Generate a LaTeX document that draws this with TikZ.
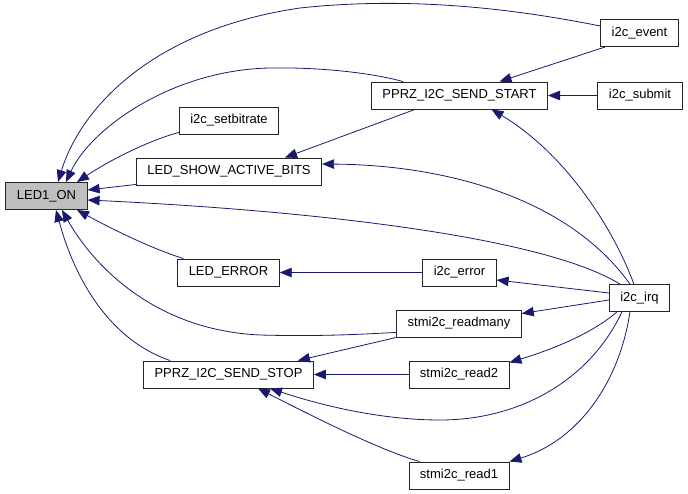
\documentclass[tikz,border=0pt]{standalone}
\usepackage{fontspec}
\setmainfont{Liberation Sans}
\usetikzlibrary{arrows.meta,positioning}
\definecolor{edgeblue}{RGB}{25,25,112}
\definecolor{rootgray}{RGB}{191,191,191}

\begin{document}
\begin{tikzpicture}[
      x=1pt,y=-1pt,
      fn/.style={draw=black!85, line width=0.9pt, fill=white, minimum height=27pt,
        inner xsep=11pt, inner ysep=0pt, font=\fontsize{13}{15}\selectfont},
      root/.style={fn, fill=rootgray},
      call/.style={draw=edgeblue, line width=0.8pt, {Triangle[length=12pt,width=9.5pt]}-}
    ]
      \useasboundingbox (0,0) rectangle (688,494);
      % functions
      \node[root] (led1) at (46.5,196) {LED1\_ON};
      \node[fn] (sbr) at (229,120.5) {i2c\_setbitrate};
      \node[fn] (show) at (229,171.5) {LED\_SHOW\_ACTIVE\_BITS};
      \node[fn] (start) at (459.5,95.5) {PPRZ\_I2C\_SEND\_START};
      \node[fn] (event) at (639.5,33) {i2c\_event};
      \node[fn] (submit) at (640,95.5) {i2c\_submit};
      \node[fn] (lederr) at (228.5,272.5) {LED\_ERROR};
      \node[fn] (ierr) at (459.5,272.5) {i2c\_error};
      \node[fn] (rm) at (459,323.5) {stmi2c\_readmany};
      \node[fn] (irq) at (639.5,298) {i2c\_irq};
      \node[fn] (stop) at (228.5,374.5) {PPRZ\_I2C\_SEND\_STOP};
      \node[fn] (r2) at (459,374.5) {stmi2c\_read2};
      \node[fn] (r1) at (459,475.5) {stmi2c\_read1};
      % calls into LED1_ON
      \draw[call] ([xshift=11.5pt]led1.north) .. controls (80,110) and (150,30) .. (300,8)
        .. controls (420,-5) and (530,12) .. ([yshift=7pt]event.west);
      \draw[call] ([xshift=19.5pt]led1.north) .. controls (90,130) and (170,70) .. (270,68)
        .. controls (330,67) and (380,75) .. ([xshift=32pt]start.north west);
      \draw[call] ([xshift=30.5pt]led1.north) .. controls (110,160) and (150,140) .. ([yshift=2pt]sbr.south west);
      \draw[call] ([yshift=6pt]led1.east) -- ([yshift=1pt]show.south west);
      \draw[call] ([yshift=-4pt]led1.east) .. controls (300,210) and (540,235) .. ([xshift=11pt]irq.north west);
      \draw[call] ([xshift=30.5pt]led1.south) .. controls (110,228) and (150,248) .. ([xshift=6pt]lederr.north west);
      \draw[call] ([xshift=15.5pt]led1.south) .. controls (90,260) and (150,330) .. (260,335)
        .. controls (330,337) and (380,333) .. ([yshift=5pt]rm.south west);
      \draw[call] ([xshift=9.5pt]led1.south) .. controls (75,280) and (110,340) .. ([xshift=27pt]stop.north west);
      % LED_SHOW_ACTIVE_BITS, PPRZ_I2C_SEND_START
      \draw[call] ([xshift=56pt]show.north) -- ([xshift=44pt]start.south west);
      \draw[call] ([yshift=7.5pt]show.east) .. controls (450,165) and (570,200) .. ([xshift=21pt]irq.north west);
      \draw[call] ([xshift=40pt]start.north) -- ([xshift=5pt]event.south west);
      \draw[call] (start) -- (submit);
      \draw[call] ([xshift=32pt]start.south) .. controls (560,150) and (610,220) .. ([xshift=25pt]irq.north west);
      % LED_ERROR, i2c_error, readmany
      \draw[call] (lederr) -- (ierr);
      \draw[call] ([yshift=-7.5pt]ierr.east) -- ([yshift=5pt]irq.west);
      \draw[call] ([yshift=10pt]rm.east) -- ([yshift=-2pt]irq.west);
      % PPRZ_I2C_SEND_STOP
      \draw[call] ([xshift=-16pt]stop.north east) -- (rm.south west);
      \draw[call] (stop) -- (r2);
      \draw[call] ([xshift=41.5pt]stop.south) .. controls (320,405) and (380,420) .. (440,420)
        .. controls (520,420) and (590,380) .. ([xshift=13pt]irq.south west);
      \draw[call] ([xshift=29.5pt]stop.south) .. controls (320,420) and (380,450) .. ([xshift=11pt]r1.north west);
      % stmi2c_read2, stmi2c_read1
      \draw[call] ([yshift=-2pt]r2.north east) .. controls (550,350) and (590,335) .. ([xshift=8pt]irq.south west);
      \draw[call] (r1.north east) .. controls (580,440) and (620,380) .. ([xshift=21pt]irq.south west);
    \end{tikzpicture}
\end{document}
